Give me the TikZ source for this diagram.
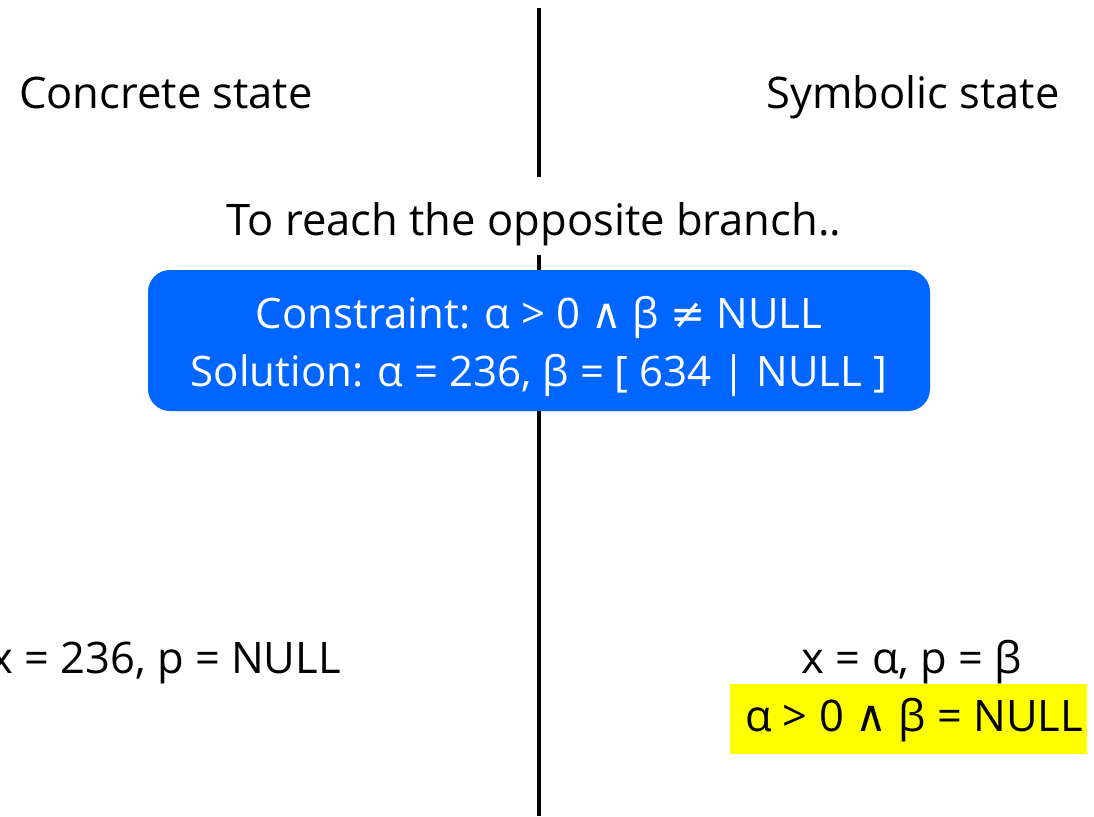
\documentclass[tikz,border=0pt]{standalone}
\usepackage{fontspec}
\setmainfont{Open Sans}
\newfontfamily\symfont{DejaVu Sans}
\newcommand{\sy}[1]{{\symfont #1}}
\definecolor{boxblue}{RGB}{0,102,255}
\definecolor{hlyellow}{RGB}{255,255,0}
\tikzset{
  lbl/.style={inner sep=0pt, font=\fontsize{43.5}{52}\selectfont, text=black, anchor=base},
  bluebox/.style={fill=boxblue, rounded corners=22pt, inner sep=0pt, minimum width=782pt, minimum height=141pt},
  bluetext/.style={text=white, align=center, inner sep=0pt, font=\fontsize{42}{58}\selectfont},
  yelbox/.style={fill=hlyellow, inner sep=0pt, minimum width=357pt, minimum height=70pt},
  divider/.style={line width=3.5pt, black}
}
\begin{document}
\begin{tikzpicture}[x=1pt,y=-1pt]
\useasboundingbox (0,0) rectangle (1094,816);
\coordinate (top) at (539,8);
\coordinate (bot) at (539,816);
\draw[divider] (top) -- (bot);
\node[lbl] (conc) at (166,108) {Concrete state};
\node[lbl] (symb) at (913,108) {Symbolic state};
\node[fill=white, minimum width=612pt, minimum height=78pt, inner sep=0pt] (reachbg) at (534,216) {};
\node[lbl] (reach) at (534,235) {To reach the opposite branch..};
\node[bluebox] (cons) at (539,340.5) {};
\node[bluetext] (constext) at (539,347) {Constraint: α > 0 \sy{∧} β \sy{≠} NULL\\Solution: α = 236, β = [ 634 | NULL ]};
\node[lbl, anchor=base east] (cval) at (341,673) {x = 236, p = NULL};
\node[lbl] (sval) at (912,673) {x = α, p = β};
\node[yelbox] (pc) at (908.5,719) {};
\node[lbl] (pctext) at (914,731) {α > 0 \sy{∧} β = NULL};
\end{tikzpicture}
\end{document}
